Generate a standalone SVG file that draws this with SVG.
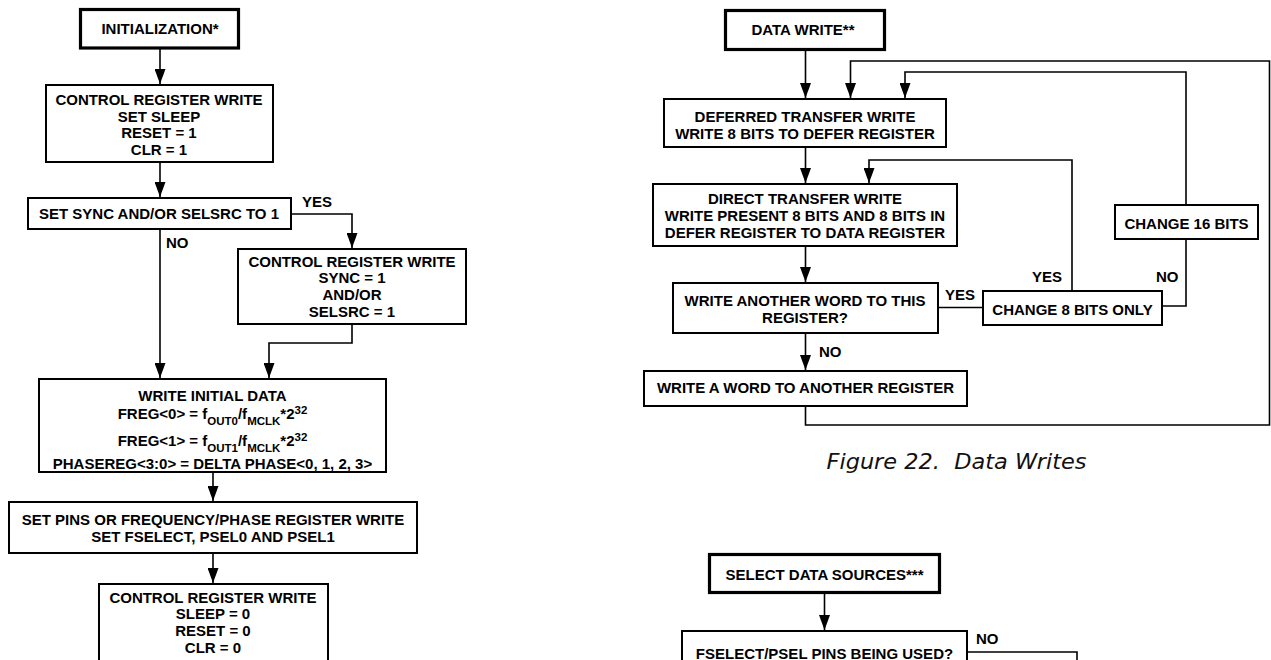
<svg xmlns="http://www.w3.org/2000/svg" width="1271" height="660" viewBox="0 0 1271 660">
<style>
.bx{fill:#fff;stroke:#000;stroke-width:2}
.bxt{fill:#fff;stroke:#000;stroke-width:3.2}
.t{font-family:"Liberation Sans",Arial,Helvetica,sans-serif;font-weight:bold;font-size:15px;fill:#000;text-anchor:middle}
.l{font-family:"Liberation Sans",Arial,Helvetica,sans-serif;font-weight:bold;font-size:15px;fill:#000}
.sm{font-size:11.5px}
.c{fill:none;stroke:#000;stroke-width:1.6}
.a{marker-end:url(#ah)}
.cap{font-family:"DejaVu Sans","Liberation Sans",Arial,sans-serif;font-style:italic;font-size:20.5px;fill:#111}
</style>
<defs>
<marker id="ah" viewBox="0 0 15 11" markerWidth="15" markerHeight="11" refX="15" refY="5.5" orient="auto" markerUnits="userSpaceOnUse">
<path d="M0,0 L15,5.5 L0,11 z" fill="#000"/>
</marker>
</defs>
<rect width="1271" height="660" fill="#fff"/>

<g id="connectors">
<path class="c a" d="M160,49 V84"/>
<path class="c a" d="M160,163 V197"/>
<path class="c a" d="M292,214 H352 V248"/>
<path class="c a" d="M160,230 V378"/>
<path class="c a" d="M352,325 V343 H269 V378"/>
<path class="c a" d="M213,473 V501"/>
<path class="c a" d="M213,554 V583"/>
<path class="c a" d="M805.5,51 V98"/>
<path class="c a" d="M805.5,148 V183"/>
<path class="c a" d="M805.5,247 V282"/>
<path class="c a" d="M805.5,334 V370"/>
<path class="c" d="M939,307.5 H982"/>
<path class="c a" d="M1072,290 V160 H869 V183"/>
<path class="c" d="M1163,306 H1186 V240"/>
<path class="c a" d="M1186,204 V72 H905 V98"/>
<path class="c a" d="M805.5,407 V425 H1269.5 V61 H850.5 V98"/>
<path class="c a" d="M824.5,594 V630"/>
<path class="c" d="M968,652 H1077 V670"/>
</g>

<g id="init">
<rect class="bxt" x="80.5" y="9.5" width="158" height="38.5"/>
<text class="t" x="160" y="33.5">INITIALIZATION*</text>
</g>
<g id="ctrl1">
<rect class="bx" x="46" y="85" width="227" height="77"/>
<text class="t" x="159" y="105">CONTROL REGISTER WRITE</text>
<text class="t" x="159" y="121.5">SET SLEEP</text>
<text class="t" x="159" y="138">RESET = 1</text>
<text class="t" x="159" y="155">CLR = 1</text>
</g>
<g id="setsync">
<rect class="bx" x="28" y="198" width="263" height="31"/>
<text class="t" x="159" y="219">SET SYNC AND/OR SELSRC TO 1</text>
<text class="l" x="302" y="207">YES</text>
<text class="l" x="166" y="248">NO</text>
</g>
<g id="ctrl2">
<rect class="bx" x="238" y="249" width="228" height="75"/>
<text class="t" x="352" y="267">CONTROL REGISTER WRITE</text>
<text class="t" x="352" y="283">SYNC = 1</text>
<text class="t" x="352" y="300">AND/OR</text>
<text class="t" x="352" y="317">SELSRC = 1</text>
</g>
<g id="initdata">
<rect class="bx" x="39" y="379" width="347" height="93"/>
<text class="t" x="212.5" y="400.5">WRITE INITIAL DATA</text>
<text class="t" x="212.5" y="419">FREG&lt;0&gt; = f<tspan class="sm" dy="6">OUT0</tspan><tspan dy="-6">/f</tspan><tspan class="sm" dy="6">MCLK</tspan><tspan dy="-6">*2</tspan><tspan class="sm" dy="-5">32</tspan></text>
<text class="t" x="212.5" y="446">FREG&lt;1&gt; = f<tspan class="sm" dy="6">OUT1</tspan><tspan dy="-6">/f</tspan><tspan class="sm" dy="6">MCLK</tspan><tspan dy="-6">*2</tspan><tspan class="sm" dy="-5">32</tspan></text>
<text class="t" x="212.5" y="468.5">PHASEREG&lt;3:0&gt; = DELTA PHASE&lt;0, 1, 2, 3&gt;</text>
</g>
<g id="setpins">
<rect class="bx" x="9" y="502" width="408" height="51"/>
<text class="t" x="213" y="525">SET PINS OR FREQUENCY/PHASE REGISTER WRITE</text>
<text class="t" x="213" y="542">SET FSELECT, PSEL0 AND PSEL1</text>
</g>
<g id="ctrl3">
<rect class="bx" x="99" y="584" width="229" height="82"/>
<text class="t" x="213" y="603">CONTROL REGISTER WRITE</text>
<text class="t" x="213" y="619">SLEEP = 0</text>
<text class="t" x="213" y="636">RESET = 0</text>
<text class="t" x="213" y="652.5">CLR = 0</text>
</g>

<g id="datawrite">
<rect class="bxt" x="725.5" y="10.5" width="159" height="39"/>
<text class="t" x="803" y="34.5">DATA WRITE**</text>
</g>
<g id="deferred">
<rect class="bx" x="664" y="99" width="282" height="48"/>
<text class="t" x="805" y="121.5">DEFERRED TRANSFER WRITE</text>
<text class="t" x="805" y="138.5">WRITE 8 BITS TO DEFER REGISTER</text>
</g>
<g id="direct">
<rect class="bx" x="653" y="184" width="304" height="62"/>
<text class="t" x="805" y="204">DIRECT TRANSFER WRITE</text>
<text class="t" x="805" y="221">WRITE PRESENT 8 BITS AND 8 BITS IN</text>
<text class="t" x="805" y="237.5">DEFER REGISTER TO DATA REGISTER</text>
</g>
<g id="another">
<rect class="bx" x="673" y="283" width="265" height="50"/>
<text class="t" x="805" y="306">WRITE ANOTHER WORD TO THIS</text>
<text class="t" x="805" y="322.5">REGISTER?</text>
<text class="l" x="945" y="300">YES</text>
<text class="l" x="819" y="356.5">NO</text>
</g>
<g id="change8">
<rect class="bx" x="983" y="291" width="179" height="34"/>
<text class="t" x="1072.5" y="314.5">CHANGE 8 BITS ONLY</text>
<text class="l" x="1032" y="282">YES</text>
<text class="l" x="1156" y="282">NO</text>
</g>
<g id="change16">
<rect class="bx" x="1115" y="205" width="143" height="34"/>
<text class="t" x="1186.5" y="228.5">CHANGE 16 BITS</text>
</g>
<g id="wordother">
<rect class="bx" x="644" y="371" width="323" height="35"/>
<text class="t" x="805.5" y="392.5">WRITE A WORD TO ANOTHER REGISTER</text>
</g>
<text class="cap" x="826.5" y="468.5" xml:space="preserve" textLength="260" lengthAdjust="spacingAndGlyphs">Figure 22.  Data Writes</text>

<g id="selectsrc">
<rect class="bxt" x="709.5" y="554.5" width="230" height="38"/>
<text class="t" x="824.5" y="579.5">SELECT DATA SOURCES***</text>
</g>
<g id="fselect">
<rect class="bx" x="682" y="631" width="285" height="40"/>
<text class="t" x="824.5" y="659">FSELECT/PSEL PINS BEING USED?</text>
<text class="l" x="976" y="644">NO</text>
</g>
</svg>
